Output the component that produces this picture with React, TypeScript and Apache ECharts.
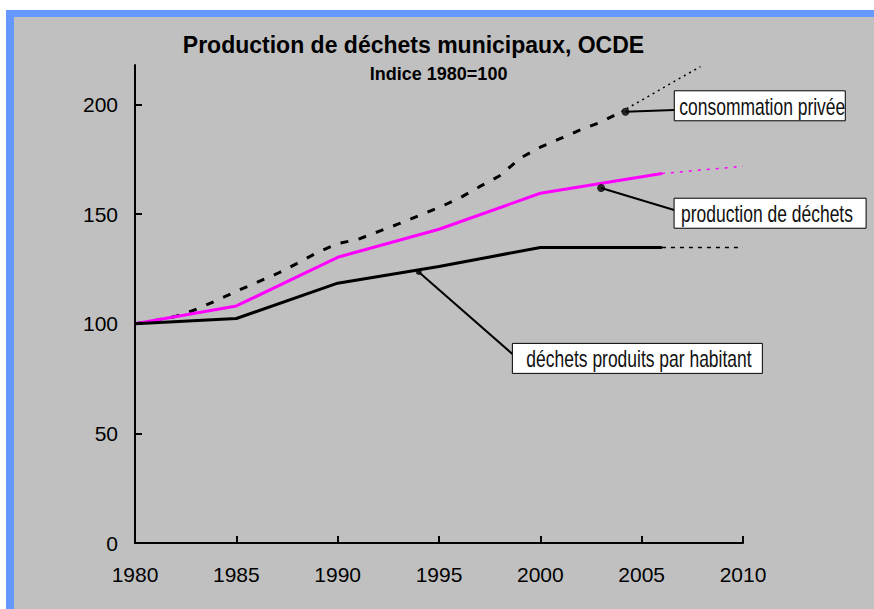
import React, { useEffect, useRef } from "react";
import * as echarts from "echarts";

// ---- data ----
const xTicks = [1980, 1985, 1990, 1995, 2000, 2005, 2010];
const yTicks = [0, 50, 100, 150, 200];

const titleText = "Production de déchets municipaux, OCDE";
const subtitleText = "Indice 1980=100";

// Consommation privée (dashed), annual index
const consoYears = [
  1980, 1981, 1982, 1983, 1984, 1985, 1986, 1987, 1988, 1989, 1990, 1991, 1992,
  1993, 1994, 1995, 1996, 1997, 1998, 1999, 2000, 2001, 2002, 2003, 2004,
];
const consoValues = [
  100, 101.5, 103.3, 106.5, 110.5, 114.8, 118.8, 122.8, 127.5, 132.5, 136.5,
  138.5, 142, 145.5, 149.3, 153, 157.2, 162.5, 167.5, 175.5, 180.5, 184.5,
  188.5, 192, 196.7,
];
const consoProjYears = [2004, 2007.9];
const consoProjValues = [196.7, 217.3];

// Production de déchets (magenta)
const wasteYears = [1980, 1985, 1990, 1995, 2000, 2006];
const wasteValues = [100, 108.1, 130.3, 143.1, 159.5, 168.5];
const wasteProjYears = [2006, 2010];
const wasteProjValues = [168.5, 171.8];

// Déchets produits par habitant (black)
const perCapYears = [1980, 1985, 1990, 1995, 2000, 2006];
const perCapValues = [100, 102.4, 118.5, 126.1, 134.8, 134.8];
const perCapProjYears = [2006, 2010];
const perCapProjValues = [134.8, 134.8];

// Annotations (data coordinates)
const labelTexts = [
  "consommation privée",
  "production de déchets",
  "déchets produits par habitant",
];
const dotPoints = [
  [2004.2, 196.7],
  [2003.0, 161.9],
  [1994.0, 123.6],
];
const leaderEnds = [
  [2006.61, 197.5],
  [2006.6, 151.9],
  [1998.62, 86.2],
];
const labelAnchors = [
  [2006.61, 199.4],
  [2006.6, 150.4],
  [1998.62, 84.2],
];

const pair = (xs: number[], ys: number[]) => xs.map((x, i) => [x, ys[i]]);

export default function App() {
  const ref = useRef<HTMLDivElement>(null);

  useEffect(() => {
    if (!ref.current) return;
    const chart = echarts.init(ref.current, null, { renderer: "svg" });
    const font = "'Liberation Sans', Arial, sans-serif";

    const boxStyles = [
      { padL: 5, width: 171 },
      { padL: 7, width: 192 },
      { padL: 14, width: 250 },
    ];
    const dotSizes = [8, 8, 6];

    const titleGraphics = [
      {
        id: "title",
        type: "text",
        x: 413.5,
        y: 45.3,
        style: {
          text: titleText,
          font: `bold 23px ${font}`,
          fill: "#000",
          textAlign: "center",
          align: "center",
          textVerticalAlign: "middle",
          verticalAlign: "middle",
        },
      },
      {
        id: "subtitle",
        type: "text",
        x: 438.6,
        y: 73.8,
        style: {
          text: subtitleText,
          font: `bold 18px ${font}`,
          fill: "#000",
          textAlign: "center",
          align: "center",
          textVerticalAlign: "middle",
          verticalAlign: "middle",
        },
      },
    ];

    chart.setOption({
      animation: false,
      grid: { left: 135, right: 131, top: 65, bottom: 66, containLabel: false },
      xAxis: {
        type: "value",
        min: 1980,
        max: 2010,
        interval: 5,
        axisLine: { show: true, onZero: false, lineStyle: { color: "#000", width: 2 } },
        axisTick: {
          show: true,
          inside: true,
          length: 7,
          customValues: xTicks,
          lineStyle: { color: "#000", width: 2 },
        },
        axisLabel: {
          color: "#000",
          fontSize: 21,
          fontFamily: font,
          margin: 21,
          customValues: xTicks,
          formatter: (v: number) => String(v),
        },
        splitLine: { show: false },
      },
      yAxis: {
        type: "value",
        min: 0,
        max: 218,
        interval: 50,
        axisLine: { show: true, onZero: false, lineStyle: { color: "#000", width: 2 } },
        axisTick: {
          show: true,
          inside: true,
          length: 7,
          customValues: yTicks,
          lineStyle: { color: "#000", width: 2 },
        },
        axisLabel: {
          color: "#000",
          fontSize: 21,
          fontFamily: font,
          margin: 17,
          customValues: yTicks,
        },
        splitLine: { show: false },
      },
      graphic: titleGraphics,
      series: [
        {
          type: "line",
          data: pair(consoYears, consoValues),
          symbol: "none",
          lineStyle: { color: "#000", width: 3, type: [8, 10.5] },
          z: 3,
        },
        {
          type: "line",
          data: pair(consoProjYears, consoProjValues),
          symbol: "none",
          lineStyle: { color: "#000", width: 1.5, type: [2, 4] },
          z: 3,
        },
        {
          type: "line",
          data: pair(wasteYears, wasteValues),
          symbol: "none",
          lineStyle: { color: "#ff00ff", width: 3 },
          z: 4,
        },
        {
          type: "line",
          data: pair(wasteProjYears, wasteProjValues),
          symbol: "none",
          lineStyle: { color: "#ff00ff", width: 1.5, type: [3, 6] },
          z: 4,
        },
        {
          type: "line",
          data: pair(perCapYears, perCapValues),
          symbol: "none",
          lineStyle: { color: "#000", width: 3 },
          z: 4,
        },
        {
          type: "line",
          data: pair(perCapProjYears, perCapProjValues),
          symbol: "none",
          lineStyle: { color: "#000", width: 1.5, type: [4, 5] },
          z: 4,
        },
        ...dotPoints.map((p, i) => ({
          type: "line",
          data: [p, leaderEnds[i]],
          symbol: "none",
          lineStyle: { color: "#000", width: 2 },
          z: 5,
        })),
        {
          type: "scatter",
          data: dotPoints.map((p, i) => ({ value: p, symbolSize: dotSizes[i] })),
          itemStyle: { color: "#000" },
          z: 6,
        },
      ],
    });

    // label boxes, positioned through the chart's own coordinate system
    const boxGraphics: any[] = [];
    labelTexts.forEach((t, i) => {
      const pt = chart.convertToPixel({ gridIndex: 0 }, labelAnchors[i]) as number[];
      if (!pt) return;
      const [px, py] = pt;
      boxGraphics.push({
        id: "box" + i,
        type: "rect",
        z: 100,
        shape: { x: px, y: py - 15, width: boxStyles[i].width, height: 30 },
        style: { fill: "#ffffff", stroke: "#000000", lineWidth: 1 },
      });
      boxGraphics.push({
        id: "txt" + i,
        type: "text",
        z: 101,
        x: px + boxStyles[i].padL,
        y: py + 1,
        scaleX: 0.76,
        style: {
          text: t,
          font: `23px ${font}`,
          fill: "#111",
          textAlign: "left",
          align: "left",
          textVerticalAlign: "middle",
          verticalAlign: "middle",
        },
      });
    });
    chart.setOption({ graphic: [...titleGraphics, ...boxGraphics] });

    return () => chart.dispose();
  }, []);

  return (
    <div
      style={{
        position: "fixed",
        left: 0,
        top: 0,
        width: 874,
        height: 609,
        background: "#fff",
        overflow: "hidden",
      }}
    >
      <div
        style={{
          position: "absolute",
          left: 6,
          top: 10,
          width: 868,
          height: 599,
          background: "#6699ff",
        }}
      />
      <div
        style={{
          position: "absolute",
          left: 14,
          top: 17,
          width: 860,
          height: 592,
          background: "#c0c0c0",
        }}
      />
      <div
        ref={ref}
        style={{ position: "absolute", left: 0, top: 0, width: 874, height: 609 }}
      />
    </div>
  );
}
